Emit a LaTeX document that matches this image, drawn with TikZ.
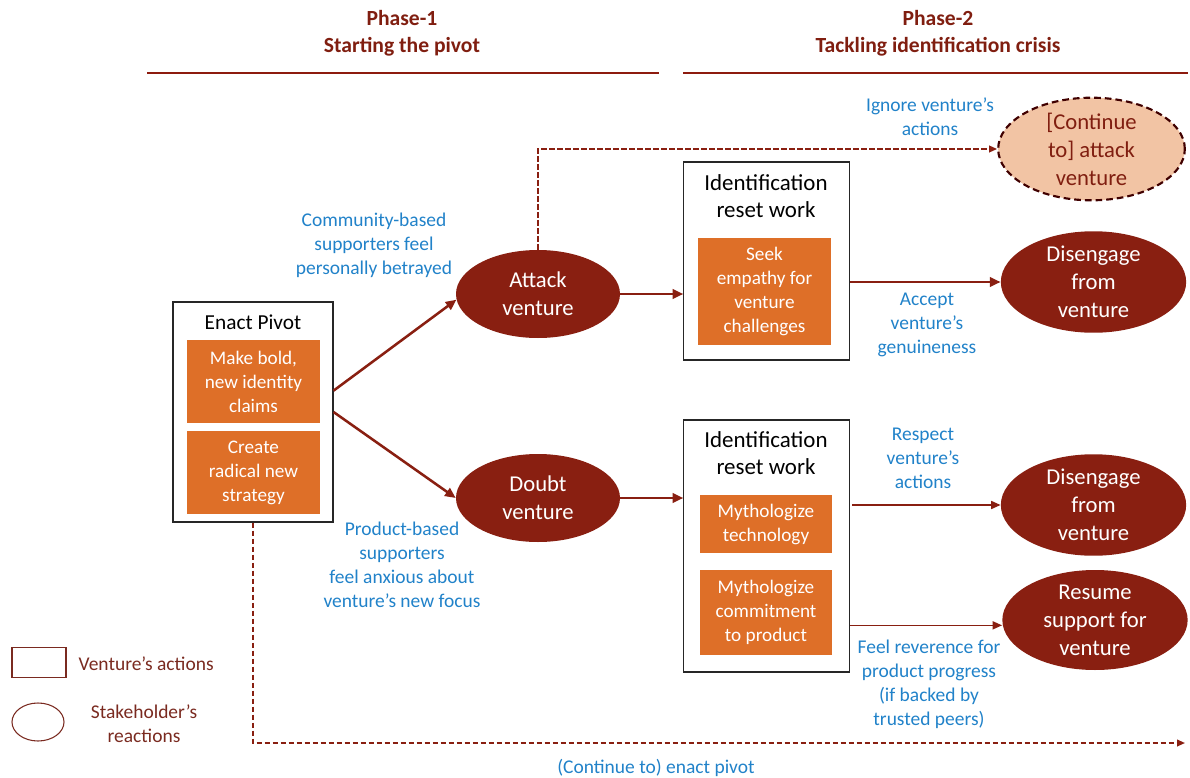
\documentclass[tikz,border=0pt]{standalone}
\usepackage{fontspec}
\setmainfont{Carlito}
\usetikzlibrary{arrows.meta,positioning,shapes.geometric}
\definecolor{darkred}{RGB}{137,31,17}
\definecolor{headred}{RGB}{128,30,16}
\definecolor{orangebox}{RGB}{222,111,40}
\definecolor{peach}{RGB}{242,196,164}
\definecolor{bluelbl}{RGB}{33,130,201}
\definecolor{legbrown}{RGB}{122,42,32}

\begin{document}
\begin{tikzpicture}[x=0.75pt,y=-0.75pt,
  act/.style={draw=black!85,line width=0.8pt,fill=white},
  work/.style={fill=orangebox,text=white,align=center,inner sep=0pt,font=\fontsize{14.4}{18}\selectfont},
  react/.style={ellipse,fill=darkred,text=white,align=center,inner sep=0pt,minimum width=139pt,minimum height=66pt,font=\fontsize{17}{21}\selectfont},
  ttl/.style={align=center,font=\fontsize{17.2}{20.3}\selectfont},
  phase/.style={align=center,text=headred,font=\bfseries\fontsize{16.2}{20.3}\selectfont},
  lbl/.style={text=bluelbl,align=center,font=\fontsize{14.6}{18}\selectfont},
  arr/.style={-{Triangle[length=8pt,width=7pt]},line width=1.9pt,draw=darkred},
  tarr/.style={-{Triangle[length=7pt,width=6pt]},line width=1pt,draw=darkred},
  darr/.style={-{Triangle[length=6pt,width=5pt]},line width=1.3pt,draw=darkred,dash pattern=on 4pt off 2pt}
]
  \useasboundingbox (0,0) rectangle (1190,778);

  % phase headers
  \node[phase] (ph1) at (402,33) {Phase-1\\Starting the pivot};
  \node[phase] (ph2) at (938,33) {Phase-2\\Tackling identification crisis};
  \draw[headred!90!red,line width=2.2pt] (147,73) -- (659,73);
  \draw[headred!90!red,line width=2.2pt] (683,73) -- (1188,73);

  % enact pivot
  \node[act,minimum width=120pt,minimum height=165pt] (pivot) at (253,412) {};
  \node[ttl,font=\fontsize{16}{20}\selectfont] (pivottl) at (253,322) {Enact Pivot};
  \node[work,minimum width=100pt,minimum height=62pt] (bold) at (253.5,381.5) {Make bold,\\new identity\\claims};
  \node[work,minimum width=100pt,minimum height=62pt] (radical) at (253.5,472.5) {Create\\radical new\\strategy};

  % first reactions
  \node[react,minimum width=123pt] (attack) at (538,294) {Attack\\venture};
  \node[react,minimum width=123pt] (doubt) at (538,498) {Doubt\\venture};

  % identification reset work
  \node[act,minimum width=124pt,minimum height=148.5pt] (reset1) at (766.5,261) {};
  \node[ttl] (reset1tl) at (766,196) {Identification\\reset work};
  \node[work,minimum width=100pt,minimum height=80pt] (empathy) at (764.5,291.5) {Seek\\empathy for\\venture\\challenges};

  \node[act,minimum width=124pt,minimum height=189pt] (reset2) at (766.5,546) {};
  \node[ttl] (reset2tl) at (766,453) {Identification\\reset work};
  \node[work,minimum width=99pt,minimum height=43.5pt] (mythtech) at (766,524) {Mythologize\\technology};
  \node[work,minimum width=99pt,minimum height=64pt] (mythprod) at (766,612.5) {Mythologize\\commitment\\to product};

  % outcomes
  \node[react,ellipse,fill=peach,text=headred,draw=black!75!red,line width=1.6pt,dash pattern=on 5pt off 3pt,minimum width=140pt,minimum height=69pt] (contatt) at (1091.5,149) {[Continue\\to] attack\\venture};
  \node[react] (dis1) at (1093.5,282) {Disengage\\from\\venture};
  \node[react] (dis2) at (1093.5,505) {Disengage\\from\\venture};
  \node[react] (resume) at (1095,620) {Resume\\support for\\venture};

  % connectors
  \draw[arr] ([yshift=16pt]pivot.east) -- (attack.184);
  \draw[arr] (pivot.east) -- (doubt.west);
  \draw[arr] (attack.east) -- (attack.east -| reset1.west);
  \draw[arr] (doubt.east) -- (doubt.east -| reset2.west);
  \draw[arr] (reset1.east |- dis1) -- (dis1.west);
  \draw[tarr,shorten <=2pt] (reset2.east |- dis2) -- (dis2.west);
  \draw[tarr] ([yshift=-4pt]reset2.east |- resume) -- ([yshift=-4pt]resume.west);
  \draw[darr] (attack.north) |- (contatt.west);
  \coordinate (pivotend) at (1185,743);
  \draw[darr] (pivot.south) |- (pivotend);

  % labels
  \node[lbl] (betray) at (374,245) {Community-based\\supporters feel\\personally betrayed};
  \node[lbl] (anxious) at (402,565) {Product-based\\supporters\\feel anxious about\\venture’s new focus};
  \node[lbl] (ignore) at (930,117) {Ignore venture’s\\actions};
  \node[lbl] (accept) at (927,325) {Accept\\venture’s\\genuineness};
  \node[lbl] (respect) at (923,458) {Respect\\venture’s\\actions};
  \node[lbl] (revere) at (929,684) {Feel reverence for\\product progress\\(if backed by\\trusted peers)};
  \node[lbl] (contpiv) at (656,768) {(Continue to) enact pivot};

  % legend
  \node[draw=legbrown,line width=0.8pt,minimum width=40.5pt,minimum height=22pt] (legact) at (39,662.5) {};
  \node[text=legbrown,anchor=west,font=\fontsize{14.6}{18}\selectfont] (legacttx) at (74,664) {Venture’s actions};
  \node[ellipse,draw=legbrown,line width=0.8pt,minimum width=39pt,minimum height=28.5pt,inner sep=0pt] (legreact) at (38,722) {};
  \node[text=legbrown,align=center,font=\fontsize{14.6}{18}\selectfont] (legreacttx) at (144,724) {Stakeholder’s\\reactions};
\end{tikzpicture}
\end{document}
